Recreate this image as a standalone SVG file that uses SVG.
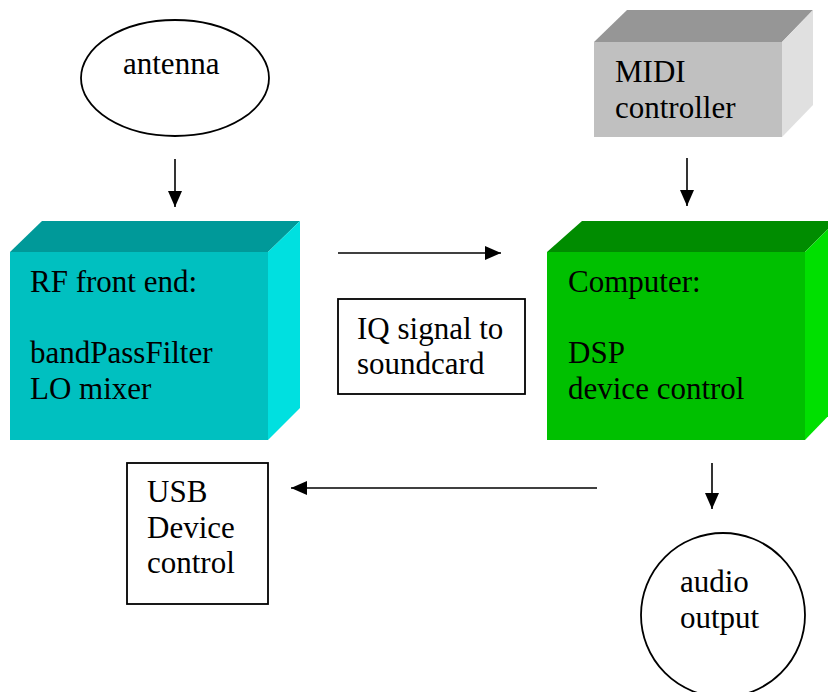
<svg xmlns="http://www.w3.org/2000/svg" width="828" height="692" viewBox="0 0 828 692">
<style>
text{font-family:"Liberation Serif","Times New Roman",serif;font-size:31px;fill:#000}
.ln{stroke:#000;stroke-width:1.6;fill:none}
.box{fill:#fff;stroke:#000;stroke-width:1.8}
</style>
<defs>
<marker id="ah" viewBox="0 0 16 14" refX="16" refY="7" markerWidth="16" markerHeight="14" markerUnits="userSpaceOnUse" orient="auto">
<path d="M0,0 L16,7 L0,14 z" fill="#000"/>
</marker>
</defs>
<rect width="828" height="692" fill="#fff"/>
<g id="antenna">
<ellipse cx="175" cy="78" rx="94" ry="58" class="box"/>
<text x="123" y="74">antenna</text>
</g>
<g id="midi">
<polygon points="594,42 627,10 813,10 782,42" fill="#969696"/>
<polygon points="782,42 813,10 813,105 782,137" fill="#e0e0e0"/>
<rect x="594" y="42" width="188" height="95" fill="#c0c0c0"/>
<text x="615" y="82">MIDI</text>
<text x="615" y="118">controller</text>
</g>
<g id="rf">
<polygon points="10,252 42,221 300,221 268,252" fill="#009999"/>
<polygon points="268,252 300,221 300,408 268,440" fill="#00e0e0"/>
<rect x="10" y="252" width="258" height="188" fill="#00c0c0"/>
<text x="30" y="292">RF front end:</text>
<text x="30" y="363">bandPassFilter</text>
<text x="30" y="399">LO mixer</text>
</g>
<g id="computer">
<polygon points="547,252 582,221 836,221 805,252" fill="#008c00"/>
<polygon points="805,252 836,221 836,408 805,440" fill="#00e000"/>
<rect x="547" y="252" width="258" height="188" fill="#00c000"/>
<text x="568" y="292">Computer:</text>
<text x="568" y="363">DSP</text>
<text x="568" y="399">device control</text>
</g>
<g id="iq">
<rect x="338" y="299" width="187" height="95" class="box"/>
<text x="357" y="339">IQ signal to</text>
<text x="357" y="374">soundcard</text>
</g>
<g id="usb">
<rect x="127" y="463" width="141" height="141" class="box"/>
<text x="147" y="502">USB</text>
<text x="147" y="538">Device</text>
<text x="147" y="573">control</text>
</g>
<g id="audio">
<circle cx="723" cy="615" r="82" class="box"/>
<text x="680" y="592">audio</text>
<text x="680" y="628">output</text>
</g>
<g id="connectors">
<line x1="175" y1="159" x2="175" y2="207" class="ln" marker-end="url(#ah)"/>
<line x1="687" y1="158" x2="687" y2="206" class="ln" marker-end="url(#ah)"/>
<line x1="338" y1="253" x2="501" y2="253" class="ln" marker-end="url(#ah)"/>
<line x1="597" y1="488" x2="291" y2="488" class="ln" marker-end="url(#ah)"/>
<line x1="712" y1="463" x2="712" y2="509" class="ln" marker-end="url(#ah)"/>
</g>
</svg>
